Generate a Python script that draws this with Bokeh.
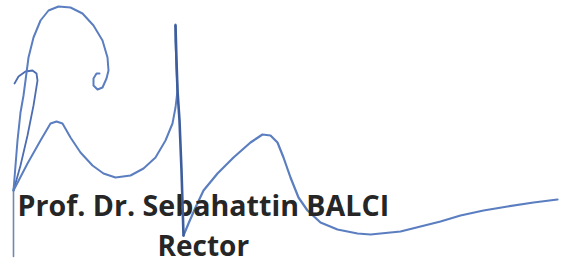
from bokeh.plotting import figure
from bokeh.models import Range1d
from bokeh.core.properties import value
from bokeh.embed import file_html
from bokeh.resources import INLINE

# Signature strokes (image pixel coordinates)
stem_x = [13, 13, 13, 13]
stem_y = [256, 230, 205, 188]

hook_x = [14, 18, 25, 32, 36, 37, 33, 27, 20, 13]
hook_y = [83, 76, 71, 70, 73, 80, 105, 135, 165, 190]

loop_x = [13, 15, 17, 20, 23, 25, 28, 33, 40, 48, 58, 70, 82, 93, 102, 107, 108, 106, 102, 97, 93, 93, 96, 99]
loop_y = [190, 165, 140, 112, 95, 80, 57, 37, 20, 10, 6, 7, 13, 25, 40, 57, 70, 78, 87, 89, 85, 78, 73, 73]

wave_x = [13, 27, 40, 50, 56, 62, 70, 80, 92, 103, 115, 130, 143, 155, 165, 172, 175, 177, 176, 175, 175, 175]
wave_y = [190, 163, 140, 123, 121, 123, 137, 152, 165, 173, 177, 175, 168, 157, 140, 123, 107, 90, 67, 40, 30, 24]

down_x = [175, 176, 177, 179, 181, 183]
down_y = [25, 60, 90, 120, 170, 235]

tail_x = [183, 188, 195, 203, 217, 233, 250, 262, 270, 277, 283, 290, 298, 307, 320, 337, 357, 370,
          380, 400, 420, 440, 460, 483, 507, 533, 557]
tail_y = [235, 223, 207, 190, 173, 157, 142, 134, 135, 142, 157, 177, 197, 210, 222, 229, 233, 234,
          233, 231, 226, 221, 215, 210, 206, 202, 199]

name_text = ["Prof. Dr. Sebahattin BALCI"]
title_text = ["Rector"]

p = figure(width=569, height=264, output_backend="svg", toolbar_location=None,
           x_range=Range1d(0, 569), y_range=Range1d(264, 0),
           min_border=0, min_border_left=0, min_border_right=0,
           min_border_top=0, min_border_bottom=0)
p.axis.visible = False
p.grid.visible = False
p.outline_line_color = None
p.background_fill_color = "white"
p.border_fill_color = "white"

blue = "#5b7ec0"
dark = "#3d5d9c"

for xs, ys, c, w in [(stem_x, stem_y, "#6f87b5", 1.6), (hook_x, hook_y, "#4e6db0", 1.8),
                     (loop_x, loop_y, blue, 2.0), (wave_x, wave_y, blue, 2.0),
                     (tail_x, tail_y, blue, 2.2)]:
    p.line(xs, ys, line_color=c, line_width=w, line_cap="round", line_join="round")

p.text(x=[17], y=[184], text=name_text, text_font=value("Open Sans"), text_font_style="bold",
       text_font_size="28.6px", text_color="#262626", text_baseline="top", text_align="left")
p.text(x=[157], y=[225], text=title_text, text_font=value("Open Sans"), text_font_style="bold",
       text_font_size="28px", text_color="#262626", text_baseline="top", text_align="left")

p.line(down_x, down_y, line_color=dark, line_width=2.6, line_cap="round", line_join="round")

open("out.html", "w").write(file_html(p, INLINE))
